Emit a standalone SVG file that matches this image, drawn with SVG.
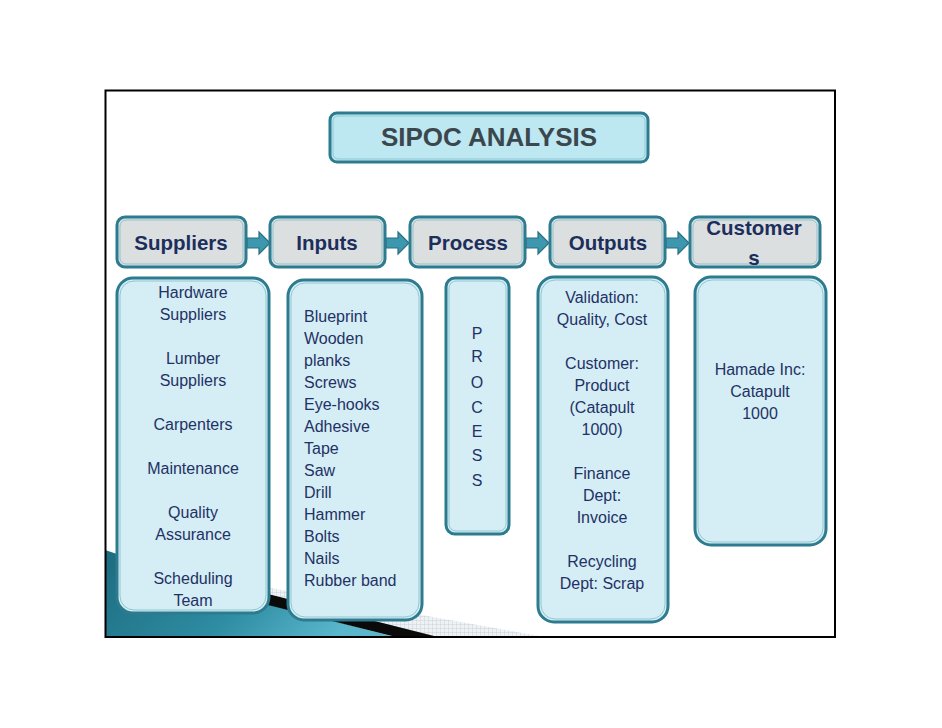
<svg xmlns="http://www.w3.org/2000/svg" width="942" height="728" viewBox="0 0 942 728">
<defs>
<style>
.hdr{fill:#dcdfe0;stroke:#2d7b8e;stroke-width:3}
.hin{fill:none;stroke:#8fc3d0;stroke-width:1}
.box{fill:#d5edf4;stroke:#2d7b8e;stroke-width:3}
.bin{fill:none;stroke:#8fc6d3;stroke-width:1}
.ht{font-family:"Liberation Sans",Arial,sans-serif;font-weight:bold;font-size:20.5px;fill:#1b2e5c;text-anchor:middle}
.t{font-family:"Liberation Sans",Arial,sans-serif;font-size:16px;fill:#1f3266}
.c{text-anchor:middle}
.arr{fill:#3d97ae;stroke:#2a6f82;stroke-width:1.2}
</style>
<linearGradient id="teal" x1="0" y1="0" x2="1" y2="0.3">
<stop offset="0" stop-color="#1d6b7e"/>
<stop offset="0.6" stop-color="#2e8ca3"/>
<stop offset="1" stop-color="#5ab6cb"/>
</linearGradient>
<pattern id="grid" width="4" height="4" patternUnits="userSpaceOnUse">
<rect width="4" height="4" fill="#eef2f4"/>
<path d="M0 0H4M0 0V4" stroke="#c4ccd2" stroke-width="0.8"/>
</pattern>
</defs>
<rect width="942" height="728" fill="#fff"/>
<g id="decoration">
<polygon points="265,587 545,637 265,637" fill="url(#grid)"/>
<path d="M105 550 Q180 575 268 604 L395 637 L105 637 Z" fill="url(#teal)"/>
<polygon points="268,594 438,637 396,637 268,605" fill="#0a0a0a"/>
</g>
<rect x="105.5" y="90.5" width="729.5" height="546.5" fill="none" stroke="#000" stroke-width="2"/>
<g id="title">
<rect x="330" y="113" width="318" height="49" rx="7" fill="#bde8f2" stroke="#2d7b8e" stroke-width="3"/>
<rect x="333" y="116" width="312" height="43" rx="5" fill="none" stroke="#8fc6d3" stroke-width="1"/>
<text x="489" y="146" text-anchor="middle" font-family="'Liberation Sans',Arial,sans-serif" font-weight="bold" font-size="26" fill="#3c474d">SIPOC ANALYSIS</text>
</g>
<g id="connectors">
<path class="arr" d="M247 238H259V232L270 243L259 254V248H247Z"/>
<path class="arr" d="M386 238H398V232L409 243L398 254V248H386Z"/>
<path class="arr" d="M526 238H538V232L549 243L538 254V248H526Z"/>
<path class="arr" d="M666 238H678V232L689 243L678 254V248H666Z"/>
</g>
<g id="h-suppliers">
<rect class="hdr" x="117" y="217" width="129" height="50" rx="8"/>
<rect class="hin" x="120" y="220" width="123" height="44" rx="6"/>
<text class="ht" x="181" y="250">Suppliers</text>
</g>
<g id="h-inputs">
<rect class="hdr" x="270" y="217" width="115" height="50" rx="8"/>
<rect class="hin" x="273" y="220" width="109" height="44" rx="6"/>
<text class="ht" x="327" y="250">Inputs</text>
</g>
<g id="h-process">
<rect class="hdr" x="410" y="217" width="115" height="50" rx="8"/>
<rect class="hin" x="413" y="220" width="109" height="44" rx="6"/>
<text class="ht" x="468" y="250">Process</text>
</g>
<g id="h-outputs">
<rect class="hdr" x="550" y="217" width="115" height="50" rx="8"/>
<rect class="hin" x="553" y="220" width="109" height="44" rx="6"/>
<text class="ht" x="608" y="250">Outputs</text>
</g>
<g id="h-customers">
<rect class="hdr" x="690" y="217" width="130" height="50" rx="8"/>
<rect class="hin" x="693" y="220" width="124" height="44" rx="6"/>
<text class="ht" x="754" y="235">Customer</text>
<text class="ht" x="754" y="265">s</text>
</g>
<g id="suppliers">
<rect class="box" x="117" y="278" width="152" height="335" rx="16"/>
<rect class="bin" x="120" y="281" width="146" height="329" rx="14"/>
<g class="t c">
<text x="193" y="298">Hardware</text>
<text x="193" y="320">Suppliers</text>
<text x="193" y="364">Lumber</text>
<text x="193" y="386">Suppliers</text>
<text x="193" y="430">Carpenters</text>
<text x="193" y="474">Maintenance</text>
<text x="193" y="518">Quality</text>
<text x="193" y="540">Assurance</text>
<text x="193" y="584">Scheduling</text>
<text x="193" y="606">Team</text>
</g>
</g>
<g id="inputs">
<rect class="box" x="288" y="280" width="134" height="340" rx="16"/>
<rect class="bin" x="291" y="283" width="128" height="334" rx="14"/>
<g class="t">
<text x="304" y="322">Blueprint</text>
<text x="304" y="344">Wooden</text>
<text x="304" y="366">planks</text>
<text x="304" y="388">Screws</text>
<text x="304" y="410">Eye-hooks</text>
<text x="304" y="432">Adhesive</text>
<text x="304" y="454">Tape</text>
<text x="304" y="476">Saw</text>
<text x="304" y="498">Drill</text>
<text x="304" y="520">Hammer</text>
<text x="304" y="542">Bolts</text>
<text x="304" y="564">Nails</text>
<text x="304" y="586">Rubber band</text>
</g>
</g>
<g id="process">
<rect class="box" x="446" y="278" width="63" height="256" rx="9"/>
<rect class="bin" x="449" y="281" width="57" height="250" rx="7"/>
<g class="t c">
<text x="477" y="339">P</text>
<text x="477" y="362">R</text>
<text x="477" y="388">O</text>
<text x="477" y="413">C</text>
<text x="477" y="437">E</text>
<text x="477" y="461">S</text>
<text x="477" y="486">S</text>
</g>
</g>
<g id="outputs">
<rect class="box" x="538" y="277" width="130" height="345" rx="16"/>
<rect class="bin" x="541" y="280" width="124" height="339" rx="14"/>
<g class="t c">
<text x="602" y="303">Validation:</text>
<text x="602" y="325">Quality, Cost</text>
<text x="602" y="369">Customer:</text>
<text x="602" y="391">Product</text>
<text x="602" y="413">(Catapult</text>
<text x="602" y="435">1000)</text>
<text x="602" y="479">Finance</text>
<text x="602" y="501">Dept:</text>
<text x="602" y="523">Invoice</text>
<text x="602" y="567">Recycling</text>
<text x="602" y="589">Dept: Scrap</text>
</g>
</g>
<g id="customers">
<rect class="box" x="695" y="277" width="131" height="268" rx="16"/>
<rect class="bin" x="698" y="280" width="125" height="262" rx="14"/>
<g class="t c">
<text x="760" y="375">Hamade Inc:</text>
<text x="760" y="397">Catapult</text>
<text x="760" y="419">1000</text>
</g>
</g>
</svg>
